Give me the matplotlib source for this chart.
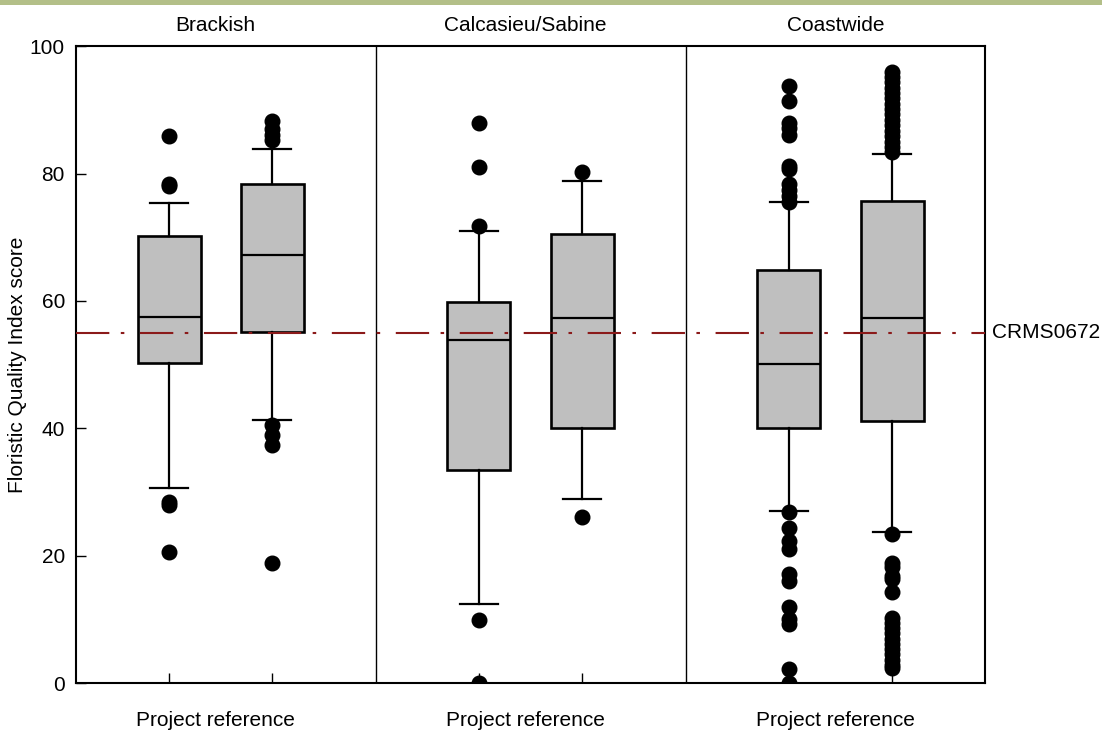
import matplotlib
matplotlib.use("Agg")
import matplotlib.pyplot as plt
from matplotlib.patches import Rectangle

# Box statistics (Floristic Quality Index score)
groups = ["Brackish", "Calcasieu/Sabine", "Coastwide"]
positions = [1, 2, 4, 5, 7, 8]
q1 = [50.2, 55.1, 33.4, 40.0, 40.0, 41.1]
medians = [57.5, 67.2, 53.9, 57.3, 50.1, 57.3]
q3 = [70.2, 78.4, 59.9, 70.5, 64.9, 75.7]
whisker_low = [30.6, 41.3, 12.5, 28.9, 27.0, 23.7]
whisker_high = [75.4, 83.9, 71.0, 78.9, 75.5, 83.0]
fliers = [
    [85.9, 78.3, 78.0, 28.4, 28.0, 20.6],
    [88.2, 87.0, 86.0, 85.2, 40.6, 38.9, 37.4, 18.8],
    [88.0, 81.0, 71.8, 9.9, 0.0],
    [80.3, 26.1],
    [93.8, 91.4, 88.0, 87.1, 86.0, 81.2, 80.7, 78.3, 77.4, 76.5, 75.6,
     26.8, 24.4, 22.3, 21.0, 17.2, 16.0, 12.0, 10.0, 9.3, 2.3, 0.0],
    [96.0, 95.2, 94.4, 93.5, 92.7, 91.8, 91.0, 90.1, 89.3, 88.4, 87.6,
     86.7, 85.9, 85.0, 84.2, 83.4,
     23.4, 18.8, 18.2, 16.9, 16.3, 14.3, 10.2, 9.5, 8.7, 7.9, 7.0, 6.2,
     5.3, 4.5, 3.6, 2.8, 2.4],
]
site_score = 55.0
site_name = "CRMS0672"

plt.rcParams["font.family"] = ["Liberation Sans", "DejaVu Sans"]

fig = plt.figure(figsize=(11.02, 7.33), dpi=100)
ax = fig.add_axes([0.069, 0.068, 0.825, 0.869])

# Green band across the top
fig.patches.append(Rectangle((0, 0.993), 1, 0.007, transform=fig.transFigure,
                             facecolor="#b3bf88", edgecolor="none"))

stats = []
for i in range(len(positions)):
    stats.append({"q1": q1[i], "med": medians[i], "q3": q3[i],
                  "whislo": whisker_low[i], "whishi": whisker_high[i],
                  "fliers": fliers[i]})

ax.bxp(stats, positions=positions, widths=0.61, capwidths=0.37, patch_artist=True,
       boxprops=dict(facecolor="#bfbfbf", edgecolor="black", linewidth=1.9),
       medianprops=dict(color="black", linewidth=1.6),
       whiskerprops=dict(color="black", linewidth=1.6),
       capprops=dict(color="black", linewidth=1.6),
       flierprops=dict(marker="o", markerfacecolor="black", markeredgecolor="black",
                       markersize=10.5))

# Site reference line
ax.axhline(site_score, color="#8b1a1a", linewidth=1.5, dashes=(16, 5.5, 1.7, 7.5), zorder=5)
ax.text(1.008, site_score, site_name, transform=ax.get_yaxis_transform(),
        ha="left", va="center", fontsize=15)

# Panel dividers
for x in [3, 6]:
    ax.axvline(x, color="black", linewidth=1.0)

ax.set_xlim(0.1, 8.9)
ax.set_ylim(0, 100)
ax.set_xticks(positions)
ax.set_xticklabels([])
ax.set_yticks([0, 20, 40, 60, 80, 100])
ax.tick_params(axis="both", direction="in", length=7, width=1, labelsize=15)
ax.tick_params(axis="y", pad=8)
for s in ax.spines.values():
    s.set_linewidth(1.5)

for k, g in enumerate(groups):
    xc = 1.45 + 3 * k
    ax.text(xc, 1.033, g, transform=ax.get_xaxis_transform(),
            ha="center", va="center", fontsize=15)
    ax.text(xc, -0.058, "Project reference", transform=ax.get_xaxis_transform(),
            ha="center", va="center", fontsize=15)

ax.set_ylabel("Floristic Quality Index score", fontsize=15)
ax.yaxis.set_label_coords(-0.064, 0.5)
ax.yaxis.label.set_va("center")

fig.savefig("out.png", dpi=100)
